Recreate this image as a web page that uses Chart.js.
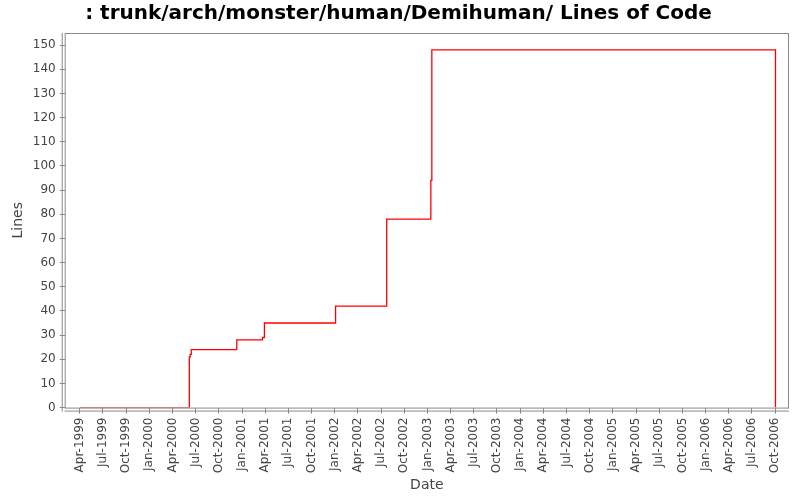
<!DOCTYPE html>
<html><head><meta charset="utf-8">
<script src="https://cdn.jsdelivr.net/npm/chart.js@4/dist/chart.umd.min.js"></script>
<style>body{margin:0;background:#fff}#w{width:800px;height:500px}</style>
</head><body><div id="w"><canvas id="c"></canvas></div>
<script>
// x in months since Jan-1999 (Apr-1999 = 3)
const monthPos = [3, 17.18, 17.3, 17.43, 23.32, 26.65, 26.9, 36.11, 42.73, 48.44, 48.57, 93.05];
const lines    = [0, 21, 22, 24, 28, 29, 35, 42, 78, 94, 148, 0];
const monNames = ['Jan','Apr','Jul','Oct'];
const tickLabel = v => monNames[(v % 12) / 3] + '-' + (1999 + Math.floor(v / 12));

const pts = monthPos.map((x, i) => ({x, y: lines[i]}));
const frame = {
  id: 'frame',
  afterDraw(ch) {
    const a = ch.chartArea, c = ch.ctx;
    c.save(); c.strokeStyle = '#888'; c.lineWidth = 1;
    c.strokeRect(a.left + 0.5, a.top + 0.5, a.right - a.left - 1, a.bottom - a.top);
    c.beginPath();
    c.moveTo(a.left - 2.5, a.top); c.lineTo(a.left - 2.5, a.bottom + 4);
    c.moveTo(a.left, a.bottom + 3.5); c.lineTo(a.right, a.bottom + 3.5);
    c.stroke(); c.restore();
  }
};
new Chart(document.getElementById('c'), {
  type: 'line',
  data: { datasets: [{ data: pts, borderColor: '#ff0000', borderWidth: 1.3, pointRadius: 0, stepped: 'before', fill: false }] },
  options: {
    responsive: true, maintainAspectRatio: false, animation: false,
    layout: { padding: { left: 8, right: 11, top: 0, bottom: 6 } },
    plugins: {
      legend: { display: false }, tooltip: { enabled: false },
      title: { display: true, text: ': trunk/arch/monster/human/Demihuman/ Lines of Code',
        font: { family: 'DejaVu Sans', size: 20, weight: 'bold' }, color: '#000', padding: { top: 2, bottom: 7 } }
    },
    scales: {
      x: { type: 'linear', min: 1.05, max: 94.8,
        afterBuildTicks: s => { s.ticks = []; for (let v = 3; v <= 93; v += 3) s.ticks.push({value: v}); },
        ticks: { callback: v => tickLabel(v), autoSkip: false, maxRotation: 90, minRotation: 90,
          font: { family: 'DejaVu Sans', size: 12 }, color: '#444', padding: 4 },
        grid: { drawOnChartArea: false, tickLength: 6, color: '#888', offset: false },
        border: { display: false },
        title: { display: true, text: 'Date', font: { family: 'DejaVu Sans', size: 14 }, color: '#444', padding: 0 } },
      y: { min: 0, max: 155,
        afterBuildTicks: s => { s.ticks = []; for (let v = 0; v <= 150; v += 10) s.ticks.push({value: v}); },
        ticks: { font: { family: 'DejaVu Sans', size: 12 }, color: '#444', padding: 4 },
        grid: { drawOnChartArea: false, tickLength: 5, color: '#888' },
        border: { display: false },
        title: { display: true, text: 'Lines', font: { family: 'DejaVu Sans', size: 14 }, color: '#444', padding: 2 } }
    }
  },
  plugins: [frame]
});
</script></body></html>
